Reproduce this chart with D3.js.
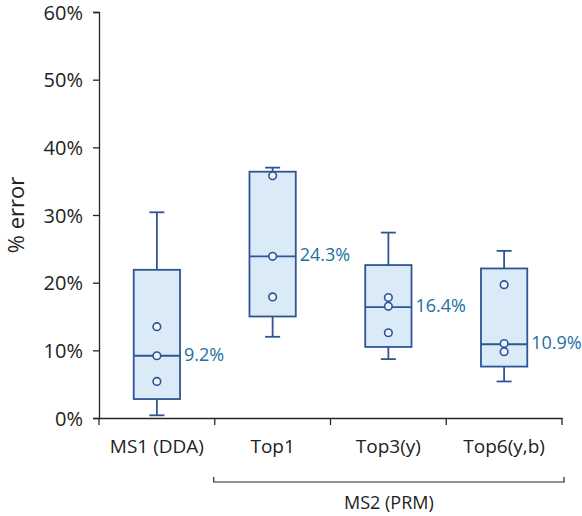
<!DOCTYPE html>
<html>
<head>
<meta charset="utf-8">
<script src="https://cdn.jsdelivr.net/npm/d3@7"></script>
<style>
  html, body { margin: 0; padding: 0; background: #fff; }
  svg { display: block; }
  text { font-family: "Open Sans", "Noto Sans", sans-serif; }
</style>
</head>
<body>
<svg id="chart" width="582" height="516"></svg>
<script>
// ---- data (fractions of 1) ----
const categories = ["MS1 (DDA)", "Top1", "Top3(y)", "Top6(y,b)"];
const whiskerLow  = [0.004, 0.120, 0.087, 0.054];
const q1          = [0.028, 0.150, 0.105, 0.076];
const medians     = [0.092, 0.239, 0.164, 0.109];
const q3          = [0.219, 0.364, 0.226, 0.221];
const whiskerHigh = [0.304, 0.370, 0.274, 0.247];
const points      = [[0.135, 0.092, 0.054], [0.358, 0.239, 0.179], [0.178, 0.165, 0.126], [0.197, 0.110, 0.098]];
const medianLabels = ["9.2%", "24.3%", "16.4%", "10.9%"];
const yTicks = [0, 0.1, 0.2, 0.3, 0.4, 0.5, 0.6];
const groupLabel = "MS2 (PRM)";
const groupMembers = ["Top1", "Top3(y)", "Top6(y,b)"];
const yTitle = "% error";

(function () {
const svg = d3.select("#chart");
const mLeft = 99, mRight = 562, mTop = 12, mBottom = 418;

const x = d3.scaleBand().domain(categories).range([mLeft, mRight]).padding(0);
const y = d3.scaleLinear().domain([0, 0.6]).range([mBottom, mTop]);

const axisColor = "#262626";
const boxStroke = "#2f5597";
const boxFill = "#dbeaf7";
const labelColor = "#21709f";

// Y axis
const yAxis = svg.append("g").attr("transform", `translate(${mLeft},0)`)
  .call(d3.axisLeft(y).tickValues(yTicks).tickFormat(d3.format(".0%")).tickSize(6).tickPadding(10));
yAxis.select(".domain").attr("stroke", axisColor).attr("stroke-width", 1.3);
yAxis.selectAll(".tick line").attr("stroke", axisColor).attr("stroke-width", 1.3);
yAxis.selectAll(".tick text").attr("fill", "#222").style("font-size", "20px")
  .style("font-family", "'Open Sans', sans-serif").attr("dy", "0.36em");

// X axis
const xAxis = svg.append("g").attr("transform", `translate(0,${mBottom})`)
  .call(d3.axisBottom(x).tickSize(0).tickPadding(22));
xAxis.select(".domain").attr("stroke", axisColor).attr("stroke-width", 1.3);
xAxis.selectAll(".tick text").attr("fill", "#222").style("font-size", "19px")
  .style("font-family", "'Open Sans', sans-serif");
const bounds = categories.map(c => x(c)).concat([x(categories[categories.length - 1]) + x.bandwidth()]);
svg.append("g").selectAll("line").data(bounds).join("line")
  .attr("x1", d => d).attr("x2", d => d)
  .attr("y1", mBottom).attr("y2", mBottom + 7)
  .attr("stroke", axisColor).attr("stroke-width", 1.3);

// Y title
svg.append("text")
  .attr("transform", `translate(18,215) rotate(-90)`)
  .attr("text-anchor", "middle")
  .attr("dominant-baseline", "middle")
  .attr("fill", "#222")
  .style("font-size", "22px")
  .text(yTitle);

// Boxes
const bw = x.bandwidth() * 0.4;
const capW = 15;
const g = svg.append("g");
categories.forEach((c, i) => {
  const cx = x(c) + x.bandwidth() / 2;
  const gg = g.append("g");
  gg.append("line").attr("x1", cx).attr("x2", cx).attr("y1", y(whiskerHigh[i])).attr("y2", y(q3[i]))
    .attr("stroke", boxStroke).attr("stroke-width", 1.8);
  gg.append("line").attr("x1", cx).attr("x2", cx).attr("y1", y(q1[i])).attr("y2", y(whiskerLow[i]))
    .attr("stroke", boxStroke).attr("stroke-width", 1.8);
  gg.append("line").attr("x1", cx - capW/2).attr("x2", cx + capW/2).attr("y1", y(whiskerHigh[i])).attr("y2", y(whiskerHigh[i]))
    .attr("stroke", boxStroke).attr("stroke-width", 1.8);
  gg.append("line").attr("x1", cx - capW/2).attr("x2", cx + capW/2).attr("y1", y(whiskerLow[i])).attr("y2", y(whiskerLow[i]))
    .attr("stroke", boxStroke).attr("stroke-width", 1.8);
  gg.append("rect").attr("x", cx - bw/2).attr("width", bw)
    .attr("y", y(q3[i])).attr("height", y(q1[i]) - y(q3[i]))
    .attr("fill", boxFill).attr("stroke", boxStroke).attr("stroke-width", 1.8);
  gg.append("line").attr("x1", cx - bw/2).attr("x2", cx + bw/2).attr("y1", y(medians[i])).attr("y2", y(medians[i]))
    .attr("stroke", boxStroke).attr("stroke-width", 1.8);
  gg.selectAll("circle").data(points[i]).join("circle")
    .attr("cx", cx).attr("cy", d => y(d)).attr("r", 3.8)
    .attr("fill", "#eef5fc").attr("stroke", boxStroke).attr("stroke-width", 1.6);
  gg.append("text").attr("x", cx + bw/2 + 4).attr("y", y(medians[i]))
    .attr("dominant-baseline", "middle")
    .attr("fill", labelColor).style("font-size", "18px")
    .text(medianLabels[i]);
});

// group bracket
const gx1 = x(groupMembers[0]) - 1;
const gx2 = x(groupMembers[groupMembers.length - 1]) + x.bandwidth() + 2;
const by = 482;
svg.append("path")
  .attr("d", `M${gx1},${by-5}V${by}H${gx2}V${by-5}`)
  .attr("fill", "none").attr("stroke", axisColor).attr("stroke-width", 1.2);
svg.append("text")
  .attr("x", (gx1 + gx2) / 2).attr("y", 504)
  .attr("text-anchor", "middle").attr("dominant-baseline", "middle")
  .attr("fill", "#222").style("font-size", "18px")
  .text(groupLabel);
})();
</script>
</body>
</html>
